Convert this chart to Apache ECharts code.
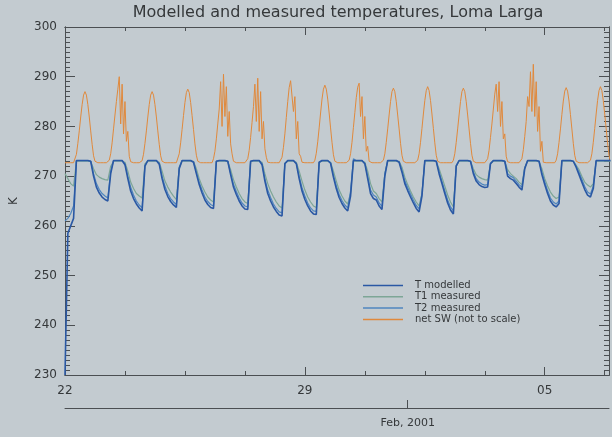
<!DOCTYPE html>
<html><head><meta charset="utf-8">
<script src="https://cdn.jsdelivr.net/npm/echarts@6/dist/echarts.min.js"></script>
<style>html,body{margin:0;padding:0;background:#c3cbd0;}#c{width:612px;height:437px;}</style>
</head><body><div id="c"></div>
<script>
// ---- data (x in days from 22 Jan 2001 00:00) ----
const titleText = 'Modelled and measured temperatures, Loma Larga';
const stepT = 1 / 12;   // temperatures every 2 h
const stepSW = 1 / 24;  // net SW every 1 h
const xMaxDays = 15.875;
const xMajorDays = 7;
const xMinorDays = 1.75;
const xTickLabels = ['22', '29', '05'];
const monthTickDay = 10;
const monthLabel = 'Feb, 2001';
const yMin = 230, yMax = 300, yStep = 10, yMinorStep = 1;
const yName = 'K';
const seriesNames = ['T modelled', 'T1 measured', 'T2 measured', 'net SW (not to scale)'];

const tModelled = [
 230.0,258.5,260.0,261.5,273.15,273.15,273.15,273.15,273.15,273.0,270.0,267.8,
 266.6,265.8,265.3,265.0,270.5,273.15,273.15,273.15,273.15,272.3,269.5,267.0,
 265.5,264.4,263.6,263.0,272.0,273.15,273.15,273.15,273.15,272.4,269.5,267.3,
 265.9,264.9,264.2,263.7,271.5,273.15,273.15,273.15,273.15,272.8,270.5,268.3,
 266.6,265.2,264.3,263.7,263.5,273.0,273.15,273.15,273.15,273.0,270.3,267.8,
 266.3,265.0,264.0,263.4,263.3,273.0,273.15,273.15,273.15,272.3,269.0,266.5,
 265.0,263.8,262.9,262.2,262.0,272.5,273.15,273.15,273.15,272.5,269.5,267.0,
 265.3,264.0,263.0,262.4,262.3,272.8,273.15,273.15,273.15,272.6,269.8,267.5,
 265.7,264.5,263.6,263.0,266.0,273.15,273.15,273.15,273.15,272.5,269.5,266.5,
 265.5,265.2,264.0,263.3,270.0,273.15,273.15,273.15,273.15,272.8,270.8,268.5,
 267.1,265.8,264.6,263.5,262.8,266.0,273.15,273.15,273.15,273.15,273.0,270.5,
 268.5,266.5,264.6,263.2,262.4,272.0,273.15,273.15,273.15,273.15,273.0,270.5,
 269.0,268.3,267.9,267.7,267.8,272.5,273.15,273.15,273.15,273.15,273.0,270.0,
 269.5,269.2,268.5,267.8,267.2,271.5,273.15,273.15,273.15,273.15,273.0,270.3,
 268.3,266.5,265.0,264.2,263.8,264.5,273.15,273.15,273.15,273.15,273.0,271.8,
 270.3,268.8,267.3,266.2,265.8,267.5,273.15,273.15,273.15,273.15,273.15,273.15
];
const t1Measured = [
 270.5,269.5,268.5,268.0,273.0,273.0,273.0,273.0,273.0,273.0,271.5,270.3,
 269.8,269.5,269.3,269.2,272.0,273.0,273.0,273.0,273.0,272.8,271.0,268.8,
 267.5,266.5,266.0,265.6,272.5,273.0,273.0,273.0,273.0,272.8,271.0,269.0,
 267.8,266.8,266.0,265.3,271.8,273.0,273.0,273.0,273.0,273.0,271.5,269.5,
 268.0,266.8,265.8,265.2,264.8,273.0,273.0,273.0,273.0,273.0,271.3,269.3,
 267.8,266.5,265.5,264.8,264.5,273.0,273.0,273.0,273.0,272.8,270.5,268.5,
 267.0,265.8,264.8,264.0,263.6,272.6,273.0,273.0,273.0,272.8,271.0,269.0,
 267.2,265.8,264.8,264.0,263.7,272.8,273.0,273.0,273.0,272.8,271.0,269.0,
 267.2,266.0,265.0,264.4,266.5,273.0,273.0,273.0,273.0,272.8,271.0,268.5,
 267.0,266.5,265.5,264.8,270.5,273.0,273.0,273.0,273.0,273.0,271.8,269.8,
 268.3,267.0,265.8,264.8,264.0,266.5,273.0,273.0,273.0,273.0,273.0,271.5,
 269.8,268.0,266.2,264.8,263.8,272.0,273.0,273.0,273.0,273.0,273.0,271.5,
 270.3,269.8,269.5,269.3,269.2,272.5,273.0,273.0,273.0,273.0,273.0,271.3,
 270.5,270.0,269.5,268.8,268.3,271.8,273.0,273.0,273.0,273.0,273.0,271.5,
 269.5,268.0,266.8,266.0,265.5,265.8,273.0,273.0,273.0,273.0,273.0,272.2,
 271.3,270.0,268.8,268.2,267.8,268.5,273.0,273.0,273.0,273.0,273.0,273.0
];
const t2Measured = [
 261.0,261.5,262.5,264.0,273.1,273.1,273.1,273.1,273.1,273.0,270.5,268.5,
 267.3,266.5,266.0,265.6,271.0,273.1,273.1,273.1,273.1,272.5,270.0,267.8,
 266.2,265.0,264.2,263.6,272.2,273.1,273.1,273.1,273.1,272.6,270.0,268.0,
 266.5,265.5,264.8,264.3,271.8,273.1,273.1,273.1,273.1,272.9,270.8,268.8,
 267.2,265.8,264.9,264.3,264.0,273.0,273.1,273.1,273.1,273.0,270.6,268.4,
 266.9,265.6,264.6,264.0,263.8,273.0,273.1,273.1,273.1,272.5,269.5,267.2,
 265.7,264.4,263.5,262.8,262.6,272.6,273.1,273.1,273.1,272.6,270.0,267.7,
 266.0,264.6,263.6,263.0,262.9,272.8,273.1,273.1,273.1,272.7,270.2,268.1,
 266.3,265.1,264.2,263.6,267.0,273.5,273.1,273.1,273.1,272.6,270.0,267.2,
 266.2,265.8,264.6,263.9,270.5,273.1,273.1,273.1,273.1,272.9,271.2,269.1,
 267.7,266.4,265.2,264.1,263.4,266.5,273.1,273.1,273.1,273.1,273.0,270.9,
 269.0,267.1,265.2,263.8,263.0,272.2,273.1,273.1,273.1,273.1,273.0,270.9,
 269.5,268.8,268.4,268.2,268.3,272.6,273.1,273.1,273.1,273.1,273.0,270.5,
 270.0,269.7,269.0,268.3,267.8,271.7,273.1,273.1,273.1,273.1,273.0,270.8,
 268.9,267.1,265.6,264.8,264.4,265.0,273.1,273.1,273.1,273.1,273.0,272.0,
 270.8,269.4,267.9,266.8,266.4,268.0,273.1,273.1,273.1,273.1,273.1,273.1
];
const netSW = [
 272.7,272.7,272.7,272.7,272.7,272.7,272.7,273.1,274.4,276.6,279.1,281.9,284.4,286.3,287.0,286.3,284.4,281.9,279.1,276.4,274.1,273.0,272.7,272.7,
 272.7,272.7,272.7,272.7,272.7,272.7,272.7,273.2,274.5,276.7,279.5,282.3,285.0,287.5,290.0,280.5,288.5,278.5,285.0,277.0,279.0,274.0,272.9,272.7,
 272.7,272.7,272.7,272.7,272.7,272.7,273.1,274.4,276.6,279.1,281.9,284.4,286.3,287.0,286.3,284.4,281.9,279.1,276.4,274.1,273.0,272.7,272.7,272.7,
 272.7,272.7,272.7,272.7,272.7,272.7,272.7,273.1,274.5,276.7,279.4,282.2,284.8,286.8,287.5,286.8,284.8,282.2,279.4,276.5,274.2,273.0,272.7,272.7,
 272.7,272.7,272.7,272.7,272.7,272.7,272.7,272.7,273.5,275.0,277.5,280.5,283.5,289.0,280.0,290.5,282.0,288.0,278.0,283.0,276.5,274.5,273.0,272.7,
 272.7,272.7,272.7,272.7,272.7,272.7,272.7,272.7,273.5,275.2,277.8,280.8,284.0,288.5,281.0,289.7,279.0,287.0,277.5,281.0,275.5,273.8,272.8,272.7,
 272.7,272.7,272.7,272.7,272.7,272.7,272.7,272.7,273.8,275.8,278.5,281.8,285.0,287.8,289.2,289.5,283.0,286.0,277.5,281.0,274.5,274.0,272.8,272.7,
 272.7,272.7,272.7,272.7,272.7,272.7,272.7,273.2,274.6,276.9,279.7,282.7,285.5,287.5,288.3,287.5,285.5,282.7,279.7,276.8,274.3,273.0,272.7,272.7,
 272.7,272.7,272.7,272.7,272.7,272.7,272.7,273.2,274.5,276.8,279.8,282.8,285.8,287.9,288.7,282.0,286.0,277.5,282.0,275.0,276.0,273.0,272.7,272.7,
 272.7,272.7,272.7,272.7,272.7,272.7,272.7,273.2,274.5,276.8,279.5,282.3,285.0,287.0,287.7,287.0,285.0,282.3,279.5,276.6,274.2,273.0,272.7,272.7,
 272.7,272.7,272.7,272.7,272.7,272.7,272.7,273.2,274.5,276.8,279.6,282.5,285.2,287.2,288.0,287.2,285.2,282.5,279.6,276.7,274.2,273.0,272.7,272.7,
 272.7,272.7,272.7,272.7,272.7,272.7,272.7,272.7,273.2,274.5,276.8,279.5,282.3,285.0,287.0,287.7,287.0,285.0,282.3,279.5,276.6,274.2,273.0,272.7,
 272.7,272.7,272.7,272.7,272.7,272.7,272.7,272.7,273.5,275.2,277.8,280.5,283.5,286.5,288.5,283.0,289.0,280.0,285.0,277.5,278.5,274.0,272.9,272.7,
 272.7,272.7,272.7,272.7,272.7,272.7,272.7,272.7,273.5,275.3,278.0,281.0,286.0,284.0,291.0,283.0,292.5,282.0,289.0,279.0,284.0,275.0,277.0,272.8,
 272.7,272.7,272.7,272.7,272.7,272.7,272.7,272.7,273.2,274.5,276.8,279.5,282.4,285.1,287.1,287.8,287.1,285.1,282.4,279.5,276.6,274.2,273.0,272.7,
 272.7,272.7,272.7,272.7,272.7,272.7,272.7,272.7,273.2,274.5,276.8,279.6,282.5,285.2,287.2,288.0,287.2,285.2,282.5,279.6,276.7,274.2,273.0,272.7
];

// ---- chart ----
const FONT = 'DejaVu Sans';
const BG = '#c3cbd0';
const AXIS = '#4b4f52';
const TXT = '#35383a';
const COLORS = ['#2a58a4', '#7da696', '#4f86bf', '#e0893c'];

const toXY = (arr, step) => arr.map((v, i) => [i * step, v]);

const baseX = {
  type: 'value', min: 0, max: xMaxDays, gridIndex: 0,
  splitLine: { show: false },
  axisLine: { show: true, onZero: false, lineStyle: { color: AXIS, width: 1 } },
  axisLabel: { show: false }
};
const baseY = {
  type: 'value', min: yMin, max: yMax, gridIndex: 0,
  splitLine: { show: false },
  axisLine: { show: true, onZero: false, lineStyle: { color: AXIS, width: 1 } },
  axisLabel: { show: false }
};
const tickLabel = (v) => {
  const k = v / xMajorDays;
  return Math.abs(k - Math.round(k)) < 1e-6 ? (xTickLabels[Math.round(k)] || '') : '';
};
const tick = (len) => ({ show: true, inside: true, length: len, lineStyle: { color: AXIS } });

const option = {
  backgroundColor: BG,
  animation: false,
  grid: { left: 60, right: 1, top: 27, bottom: 62, containLabel: false },
  legend: {
    orient: 'vertical', left: 363, top: 280, padding: 0, itemGap: 0.3,
    itemWidth: 40, itemHeight: 1.5, icon: 'rect',
    textStyle: { fontFamily: FONT, fontSize: 10, color: TXT, padding: [0, 0, 0, 7], lineHeight: 11 },
    data: seriesNames
  },
  graphic: [{
    type: 'text', x: 338, y: 13,
    style: { text: titleText, align: 'center', verticalAlign: 'middle', font: '16px "DejaVu Sans"', fill: TXT }
  }],
  xAxis: [
    Object.assign({}, baseX, { position: 'bottom', interval: xMajorDays, axisTick: tick(8),
      axisLabel: { show: true, formatter: tickLabel, fontFamily: FONT, fontSize: 12, color: TXT, margin: 10 } }),
    Object.assign({}, baseX, { position: 'bottom', interval: xMinorDays, axisTick: tick(4) }),
    Object.assign({}, baseX, { position: 'top', interval: xMajorDays, axisTick: tick(8) }),
    Object.assign({}, baseX, { position: 'top', interval: xMinorDays, axisTick: tick(4) }),
    Object.assign({}, baseX, { position: 'bottom', offset: 33,
      axisTick: Object.assign(tick(8), { customValues: [monthTickDay] }),
      axisLabel: { show: true, customValues: [monthTickDay], formatter: () => monthLabel,
        fontFamily: FONT, fontSize: 11, color: TXT, margin: 10 } })
  ],
  yAxis: [
    Object.assign({}, baseY, { position: 'left', interval: yStep, axisTick: tick(10),
      name: yName, nameLocation: 'middle', nameRotate: 90, nameGap: 45,
      nameTextStyle: { fontFamily: FONT, fontSize: 12, color: TXT },
      axisLabel: { show: true, fontFamily: FONT, fontSize: 12, color: TXT, margin: 8 } }),
    Object.assign({}, baseY, { position: 'left', interval: yMinorStep, axisTick: tick(5) }),
    Object.assign({}, baseY, { position: 'right', interval: yStep, axisTick: tick(10) }),
    Object.assign({}, baseY, { position: 'right', interval: yMinorStep, axisTick: tick(5) })
  ],
  series: [
    { name: seriesNames[3], type: 'line', data: toXY(netSW, stepSW), showSymbol: false, symbol: 'none',
      lineStyle: { color: COLORS[3], width: 1 }, itemStyle: { color: COLORS[3] }, z: 2 },
    { name: seriesNames[1], type: 'line', data: toXY(t1Measured, stepT), showSymbol: false, symbol: 'none',
      lineStyle: { color: COLORS[1], width: 1.2 }, itemStyle: { color: COLORS[1] }, z: 3 },
    { name: seriesNames[2], type: 'line', data: toXY(t2Measured, stepT), showSymbol: false, symbol: 'none',
      lineStyle: { color: COLORS[2], width: 1.2 }, itemStyle: { color: COLORS[2] }, z: 4 },
    { name: seriesNames[0], type: 'line', data: toXY(tModelled, stepT), showSymbol: false, symbol: 'none',
      lineStyle: { color: COLORS[0], width: 1.6 }, itemStyle: { color: COLORS[0] }, z: 5 }
  ]
};
const chart = echarts.init(document.getElementById('c'), null, { renderer: 'canvas' });
chart.setOption(option);
</script>
</body></html>
